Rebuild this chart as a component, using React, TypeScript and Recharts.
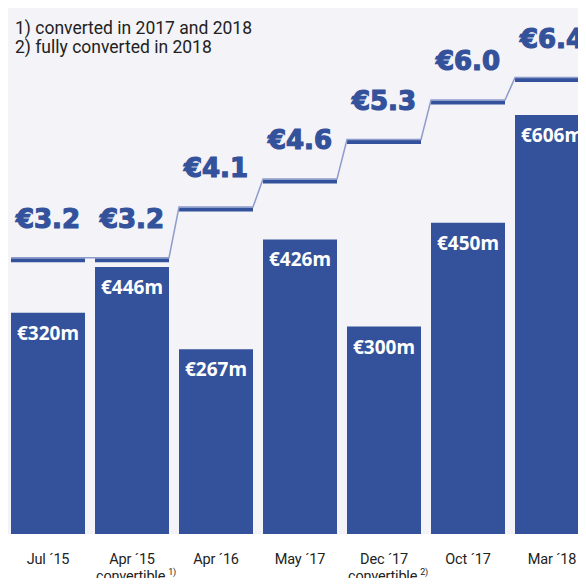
import { BarChart, Bar, Line, XAxis, YAxis, CartesianGrid, LabelList } from 'recharts';

const categories = ['Jul ´15', 'Apr ´15', 'Apr ´16', 'May ´17', 'Dec ´17', 'Oct ´17', 'Mar ´18'];
const subLabels = ['', 'convertible', '', '', 'convertible', '', ''];
const noteRefs = ['', '1)', '', '', '2)', '', ''];
// bar heights as drawn in the picture (€m); the Apr '15 bar is drawn shorter than its label
const barHeights = [320, 386, 267, 426, 300, 450, 606];
const amountLabels = ['€320m', '€446m', '€267m', '€426m', '€300m', '€450m', '€606m'];
const prices = [3.2, 3.2, 4.1, 4.6, 5.3, 6.0, 6.4];
const notes = ['1) converted in 2017 and 2018', '2) fully converted in 2018'];

const BLUE = '#33529b';
const LIGHT = '#8e9ccc';

const data = categories.map((name, i) => ({
  name,
  amount: barHeights[i],
  label: amountLabels[i],
  price: prices[i],
}));

// step curve: a flat segment over each bar, thin diagonal joins between bars
const stepCurve = (joined: boolean, offset: number) => (ctx: any) => {
  let pts: [number, number][] = [];
  return {
    areaStart() {},
    areaEnd() {},
    lineStart() {
      pts = [];
    },
    point(x: number, y: number) {
      pts.push([+x, +y]);
    },
    lineEnd() {
      const half = pts.length > 1 ? ((pts[1][0] - pts[0][0]) * 37) / 84 : 37;
      pts.forEach(([x, y], i) => {
        if (!joined || i === 0) ctx.moveTo(x - half, y + offset);
        else ctx.lineTo(x - half, y + offset);
        ctx.lineTo(x + half, y + offset);
      });
    },
  };
};

const CategoryTick = (props: any) => {
  const { x, y, payload } = props;
  const i = categories.indexOf(payload.value);
  return (
    <g>
      <text x={x} y={y + 28} textAnchor="middle" fontFamily="Roboto" fontSize={14.5} fill="#222" letterSpacing={-0.2}>
        {payload.value}
      </text>
      {subLabels[i] && (
        <text x={x + 4} y={y + 45} textAnchor="middle" fontFamily="Roboto" fontSize={14.5} fill="#222" letterSpacing={-0.2}>
          {subLabels[i]}
          <tspan fontSize={9} dx={3} dy={-6}>
            {noteRefs[i]}
          </tspan>
        </text>
      )}
    </g>
  );
};

const AmountLabel = (props: any) => {
  const { x, y, width, value } = props;
  return (
    <text x={x + width / 2} y={y + 27} textAnchor="middle" fontFamily="'Noto Sans'" fontWeight={700} fontSize={19} fill="#fff">
      {value}
    </text>
  );
};

const PriceLabel = (props: any) => {
  const { x, y, value } = props;
  return (
    <text
      x={x}
      y={y - 30}
      textAnchor="middle"
      fontFamily="'DejaVu Sans'"
      fontWeight={700}
      fontSize={26}
      fill={BLUE}
      stroke={BLUE}
      strokeWidth={1.2}
    >
      {`€${Number(value).toFixed(1)}`}
    </text>
  );
};

export default function App() {
  return (
    <div style={{ position: 'relative', margin: -8, width: 586, height: 586, overflow: 'hidden', background: '#fff' }}>
      <BarChart width={600} height={586} data={data} margin={{ top: 5, right: 6, bottom: 0, left: 6 }} barSize={74}>
        <CartesianGrid horizontal={false} vertical={false} fill="#f3f3f8" />
        <XAxis
          dataKey="name"
          height={52}
          axisLine={false}
          tickLine={false}
          tickSize={0}
          interval={0}
          tick={<CategoryTick />}
        />
        <YAxis yAxisId="amt" hide domain={[0, 765]} />
        <YAxis yAxisId="px" hide domain={[-1.71, 7.69]} />
        <Bar yAxisId="amt" dataKey="amount" fill={BLUE} isAnimationActive={false}>
          <LabelList dataKey="label" content={<AmountLabel />} />
        </Bar>
        <Line
          yAxisId="px"
          dataKey="price"
          type={stepCurve(false, 2.5) as any}
          stroke={BLUE}
          strokeWidth={4}
          dot={false}
          activeDot={false}
          isAnimationActive={false}
        />
        <Line
          yAxisId="px"
          dataKey="price"
          type={stepCurve(true, 0) as any}
          stroke={LIGHT}
          strokeWidth={1.5}
          dot={false}
          activeDot={false}
          isAnimationActive={false}
        >
          <LabelList dataKey="price" content={<PriceLabel />} />
        </Line>
      </BarChart>
      <div
        style={{
          position: 'absolute',
          left: 15,
          top: 19,
          fontFamily: 'Roboto',
          fontSize: 17.5,
          lineHeight: '19px',
          color: '#222',
        }}
      >
        {notes.map((n) => (
          <div key={n}>{n}</div>
        ))}
      </div>
    </div>
  );
}
